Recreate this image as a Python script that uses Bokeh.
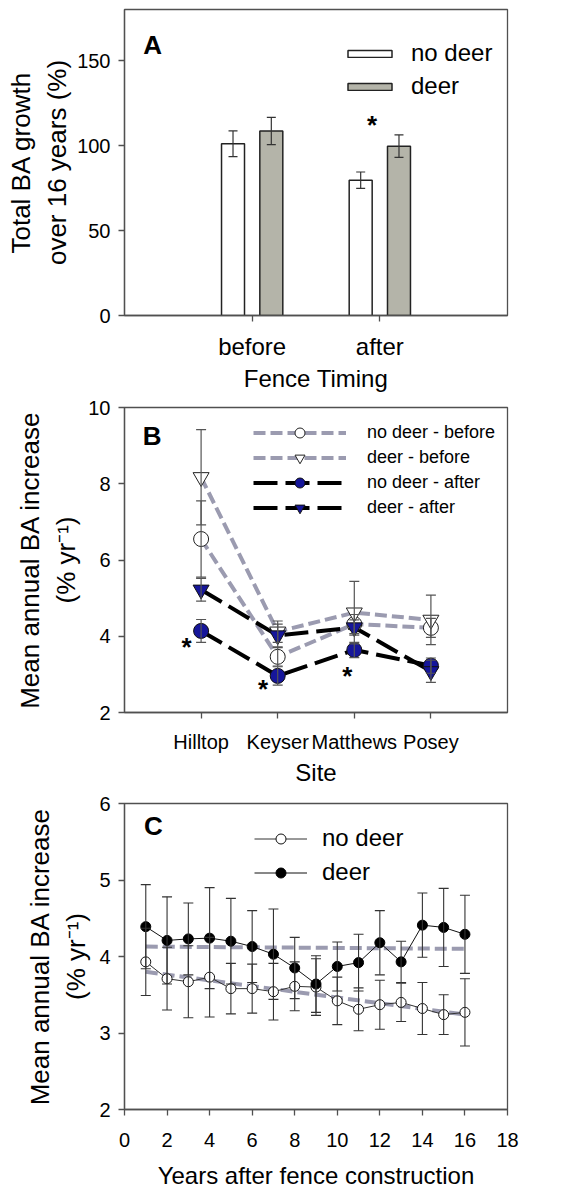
import numpy as np
from bokeh.plotting import figure
from bokeh.layouts import column
from bokeh.models import (FixedTicker, Legend, LegendItem, Whisker, ColumnDataSource,
                          Range1d, TeeHead)
from bokeh.embed import file_html
from bokeh.resources import INLINE
from bokeh.core.properties import value

# ---------------- data ----------------
# Panel A
timing = ["before", "after"]
a_nodeer = [101.0, 79.6]
a_nodeer_se = [7.6, 4.8]
a_deer = [108.5, 99.6]
a_deer_se = [8.0, 6.6]

# Panel B
sites = ["Hilltop", "Keyser", "Matthews", "Posey"]
b_nd_before = [6.55, 3.46, 4.32, 4.22]
b_nd_before_se = [1.00, 0.24, 0.25, 0.25]
b_d_before = [8.17, 4.12, 4.62, 4.43]
b_d_before_se = [1.25, 0.28, 0.82, 0.65]
b_nd_after = [4.14, 2.96, 3.64, 3.23]
b_nd_after_se = [0.30, 0.24, 0.20, 0.20]
b_d_after = [5.22, 4.02, 4.23, 3.08]
b_d_after_se = [0.30, 0.30, 0.20, 0.29]

# Panel C
years = list(range(1, 17))
c_nodeer = [3.93, 3.71, 3.67, 3.73, 3.58, 3.58, 3.54, 3.61, 3.60, 3.42, 3.31, 3.37, 3.40, 3.32, 3.24, 3.27]
c_nodeer_se = [0.44, 0.41, 0.47, 0.52, 0.33, 0.32, 0.37, 0.32, 0.37, 0.31, 0.28, 0.32, 0.25, 0.34, 0.26, 0.44]
c_deer = [4.39, 4.21, 4.23, 4.24, 4.20, 4.13, 4.03, 3.85, 3.64, 3.87, 3.92, 4.18, 3.93, 4.41, 4.38, 4.29]
c_deer_se = [0.55, 0.57, 0.47, 0.66, 0.56, 0.47, 0.59, 0.40, 0.37, 0.32, 0.37, 0.42, 0.27, 0.42, 0.51, 0.51]
c_trend_years = [1, 16]
c_nodeer_trend = [3.80, 3.24]
c_deer_trend = [4.13, 4.10]

# annotations (text only)
a_star_x, a_star_y = [1.94], [112.0]
b_star_x, b_star_y = [0.81, 1.81, 2.91], [3.72, 2.62, 2.95]

FONT = "Liberation Sans"
AXC = "#505050"
GRAY_LINE = "#9b9bb0"
NAVY = "#16169a"
BAR_GRAY = "#b4b4a9"


def make_fig(xr, yr, top, fh, bottom, ylab_standoff):
    p = figure(frame_width=383, frame_height=fh, min_border_left=124, min_border_right=60,
               min_border_top=top, min_border_bottom=bottom, x_range=xr, y_range=yr,
               output_backend="svg", toolbar_location=None)
    p.grid.visible = False
    p.outline_line_color = AXC
    p.outline_line_width = 1.3
    for ax in (p.xaxis[0], p.yaxis[0]):
        ax.axis_line_color = AXC
        ax.axis_line_width = 1.3
        ax.major_tick_line_color = AXC
        ax.major_tick_line_width = 1.3
        ax.major_tick_out = 6
        ax.major_tick_in = 0
        ax.minor_tick_line_color = None
        ax.major_label_text_font = FONT
        ax.major_label_text_color = "black"
        ax.major_label_text_font_size = "20px"
        ax.axis_label_text_font = FONT
        ax.axis_label_text_font_style = "normal"
        ax.axis_label_text_color = "black"
        ax.axis_label_text_font_size = "24px"
    p.yaxis.major_label_standoff = 8
    p.yaxis.axis_label_standoff = ylab_standoff
    p.yaxis.axis_label_text_font_size = "26px"
    return p


def whisk(p, src, base, upper, lower, size, color="#333333", width=1.2):
    w = Whisker(base=base, upper=upper, lower=lower, source=src, level="annotation",
                line_color=color, line_width=width,
                upper_head=TeeHead(size=size, line_color=color, line_width=width),
                lower_head=TeeHead(size=size, line_color=color, line_width=width))
    p.add_layout(w)


def panel_label(p, x, y, t):
    p.text(x=[x], y=[y], text=[t], text_font=value(FONT), text_font_style="bold",
           text_font_size="26px", text_align="center", text_baseline="middle", text_color="black")


def legend(items, loc, gw, gh, fs, standoff, spacing, padding=10):
    return Legend(items=items, location=loc, glyph_width=gw, glyph_height=gh,
                  label_text_font_size=fs, label_text_font=FONT, label_text_color="black",
                  label_standoff=standoff, spacing=spacing, padding=padding, margin=0,
                  border_line_color=None, background_fill_alpha=0)


# ---------------- Panel A ----------------
xa = np.arange(1, len(timing) + 1)
off = 0.15
srcA = ColumnDataSource(dict(
    x_nd=xa - off, x_d=xa + off, nd=a_nodeer, d=a_deer,
    nd_lo=np.array(a_nodeer) - np.array(a_nodeer_se), nd_hi=np.array(a_nodeer) + np.array(a_nodeer_se),
    d_lo=np.array(a_deer) - np.array(a_deer_se), d_hi=np.array(a_deer) + np.array(a_deer_se)))
pA = make_fig(Range1d(0, 3), Range1d(0, 180), 9, 306, 80, 2)
r_nd = pA.vbar(x="x_nd", top="nd", width=0.18, source=srcA, fill_color="white",
               line_color="#222222", line_width=1.5)
r_d = pA.vbar(x="x_d", top="d", width=0.18, source=srcA, fill_color=BAR_GRAY,
              line_color="#222222", line_width=1.5)
whisk(pA, srcA, "x_nd", "nd_hi", "nd_lo", 9)
whisk(pA, srcA, "x_d", "d_hi", "d_lo", 9)
pA.xaxis.ticker = FixedTicker(ticks=[int(v) for v in xa])
pA.xaxis.major_label_overrides = {int(v): t for v, t in zip(xa, timing)}
pA.xaxis.major_label_text_font_size = "24px"
pA.xaxis.major_label_standoff = 11
pA.xaxis.axis_label_standoff = 2
pA.xaxis.axis_label = "Fence Timing"
pA.yaxis.ticker = FixedTicker(ticks=[0, 50, 100, 150])
pA.yaxis.axis_label = "Total BA growth\nover 16 years (%)"
pA.text(x=a_star_x, y=a_star_y, text=["*"], text_font=value(FONT), text_font_style="bold",
        text_font_size="26px", text_align="center", text_baseline="middle")
panel_label(pA, 0.22, 159, "A")
pA.add_layout(legend([LegendItem(label="no deer", renderers=[r_nd]),
                      LegendItem(label="deer", renderers=[r_d])],
                     (218, 215), 55, 9, "24px", 14, 5))

# ---------------- Panel B ----------------
xb = np.arange(1, len(sites) + 1)
pB = make_fig(Range1d(0, 5), Range1d(2, 10), 12, 305, 78, 4)


def series_src(vals, se):
    v = np.array(vals); s = np.array(se)
    return ColumnDataSource(dict(x=xb, y=v, lo=v - s, hi=v + s))


s_ndb = series_src(b_nd_before, b_nd_before_se)
s_db = series_src(b_d_before, b_d_before_se)
s_nda = series_src(b_nd_after, b_nd_after_se)
s_da = series_src(b_d_after, b_d_after_se)

for s in (s_ndb, s_db, s_nda, s_da):
    whisk(pB, s, "x", "hi", "lo", 10, color="#555555", width=1.2)

l_ndb = pB.line("x", "y", source=s_ndb, line_color=GRAY_LINE, line_width=4, line_dash="12 5")
l_db = pB.line("x", "y", source=s_db, line_color=GRAY_LINE, line_width=4, line_dash="12 5")
l_nda = pB.line("x", "y", source=s_nda, line_color="black", line_width=4, line_dash="24 8")
l_da = pB.line("x", "y", source=s_da, line_color="black", line_width=4, line_dash="24 8")
m_ndb = pB.scatter("x", "y", source=s_ndb, marker="circle", size=15, fill_color="white",
                   line_color="#222222", line_width=1)
m_db = pB.scatter("x", "y", source=s_db, marker="inverted_triangle", size=16, fill_color="white",
                  line_color="#222222", line_width=1)
m_nda = pB.scatter("x", "y", source=s_nda, marker="circle", size=15, fill_color=NAVY,
                   line_color="#111111", line_width=1)
m_da = pB.scatter("x", "y", source=s_da, marker="inverted_triangle", size=16, fill_color=NAVY,
                  line_color="#111111", line_width=1)
pB.xaxis.ticker = FixedTicker(ticks=[int(v) for v in xb])
pB.xaxis.major_label_overrides = {int(v): t for v, t in zip(xb, sites)}
pB.xaxis.major_label_standoff = 12
pB.xaxis.axis_label_standoff = 3
pB.xaxis.axis_label = "Site"
pB.yaxis.ticker = FixedTicker(ticks=[2, 4, 6, 8, 10])
pB.yaxis.axis_label = "Mean annual BA increase\n(% yr\u207b\u00b9)"
pB.text(x=b_star_x, y=b_star_y, text=["*"] * len(b_star_x), text_font=value(FONT),
        text_font_style="bold", text_font_size="26px", text_align="center", text_baseline="middle")
panel_label(pB, 0.36, 9.24, "B")
pB.add_layout(legend([LegendItem(label="no deer - before", renderers=[l_ndb, m_ndb]),
                      LegendItem(label="deer - before", renderers=[l_db, m_db]),
                      LegendItem(label="no deer - after", renderers=[l_nda, m_nda]),
                      LegendItem(label="deer - after", renderers=[l_da, m_da])],
                     (129, 192), 93, 25, "18px", 21, 0))

# ---------------- Panel C ----------------
pC = make_fig(Range1d(0, 18), Range1d(2, 6), 13, 306, 79, 5)
yc = np.array(years)
s_cnd = ColumnDataSource(dict(x=yc, y=c_nodeer, lo=np.array(c_nodeer) - np.array(c_nodeer_se),
                              hi=np.array(c_nodeer) + np.array(c_nodeer_se)))
s_cd = ColumnDataSource(dict(x=yc, y=c_deer, lo=np.array(c_deer) - np.array(c_deer_se),
                             hi=np.array(c_deer) + np.array(c_deer_se)))
whisk(pC, s_cd, "x", "hi", "lo", 10, color="#333333", width=1.1)
whisk(pC, s_cnd, "x", "hi", "lo", 10, color="#333333", width=1.1)
pC.line(c_trend_years, c_deer_trend, line_color=GRAY_LINE, line_width=4, line_dash="12 5")
pC.line(c_trend_years, c_nodeer_trend, line_color=GRAY_LINE, line_width=4, line_dash="12 5")
lc_nd = pC.line("x", "y", source=s_cnd, line_color="#333333", line_width=1)
lc_d = pC.line("x", "y", source=s_cd, line_color="#111111", line_width=1)
mc_nd = pC.scatter("x", "y", source=s_cnd, marker="circle", size=10, fill_color="white",
                   line_color="#111111", line_width=1)
mc_d = pC.scatter("x", "y", source=s_cd, marker="circle", size=10, fill_color="black",
                  line_color="black", line_width=1)
pC.xaxis.ticker = FixedTicker(ticks=list(range(0, 19, 2)))
pC.xaxis.major_label_standoff = 17
pC.xaxis.axis_label_standoff = 12
pC.xaxis.axis_label = "Years after fence construction"
pC.yaxis.ticker = FixedTicker(ticks=[2, 3, 4, 5, 6])
pC.yaxis.axis_label = "Mean annual BA increase\n(% yr\u207b\u00b9)"
panel_label(pC, 1.36, 5.70, "C")
pC.add_layout(legend([LegendItem(label="no deer", renderers=[lc_nd, mc_nd]),
                      LegendItem(label="deer", renderers=[lc_d, mc_d])],
                     (130, 223), 53, 25, "24px", 15, 6))

layout = column(pA, pB, pC, spacing=0)
open("out.html", "w").write(file_html(layout, INLINE))
